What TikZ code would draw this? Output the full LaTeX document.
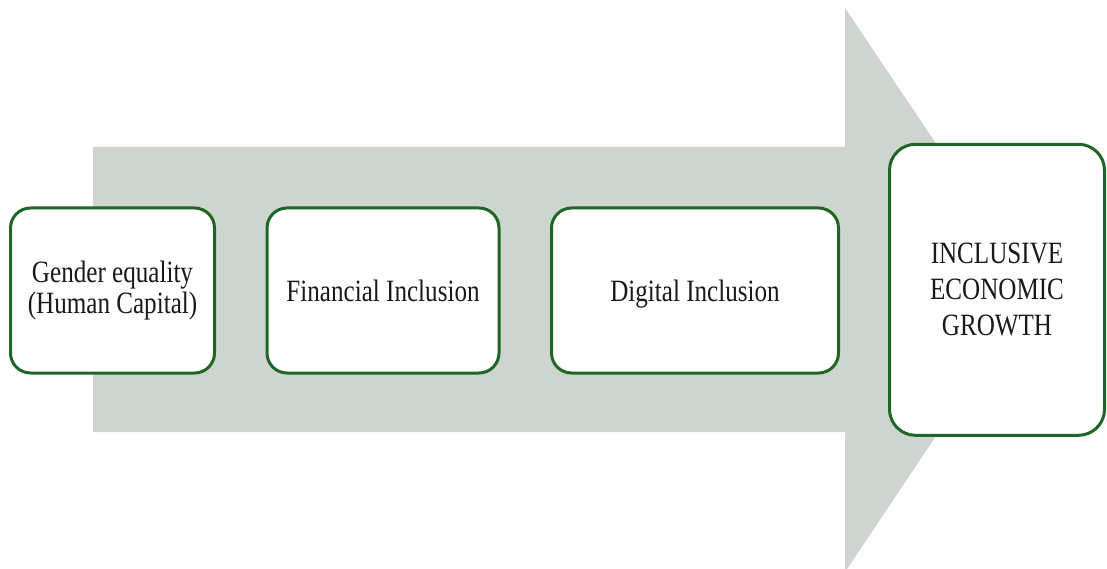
\documentclass[tikz,border=0pt]{standalone}
\usepackage{fontspec}
\setmainfont{Liberation Serif}[FakeStretch=0.81]
\usepackage{tikz}

\definecolor{boxgreen}{RGB}{30,102,38}
\definecolor{arrowgray}{RGB}{206,213,206}

\tikzset{
	stage/.style={draw=boxgreen, line width=3pt, fill=white, rectangle, rounded corners=20pt,
		align=center, text=black!90, inner sep=0pt, font=\fontsize{31}{31}\selectfont}
}

\begin{document}
\begin{tikzpicture}[x=1pt,y=1pt]
			\useasboundingbox (0,0) rectangle (1107,568);
			% wide arrow behind the stages
			\fill[arrowgray] (93,136) -- (93,421) -- (845,421) -- (845,560) -- (1034,278.5) -- (845,-4) -- (845,136) -- cycle;
			
			\node (gender) [stage, minimum width=204pt, minimum height=165pt] at (112.5,277.5){Gender equality\\(Human Capital)};
			\node (finance) [stage, minimum width=232pt, minimum height=165pt] at (383,277.5){Financial Inclusion};
			\node (digital) [stage, minimum width=287pt, minimum height=165pt, text depth=0pt] at (695,277.5){Digital Inclusion};
			\node (growth) [stage, rounded corners=26pt, minimum width=215pt, minimum height=291pt,
				font=\fontsize{31}{36}\selectfont] at (997,278.2){INCLUSIVE\\ECONOMIC\\GROWTH};
		\end{tikzpicture}
\end{document}
